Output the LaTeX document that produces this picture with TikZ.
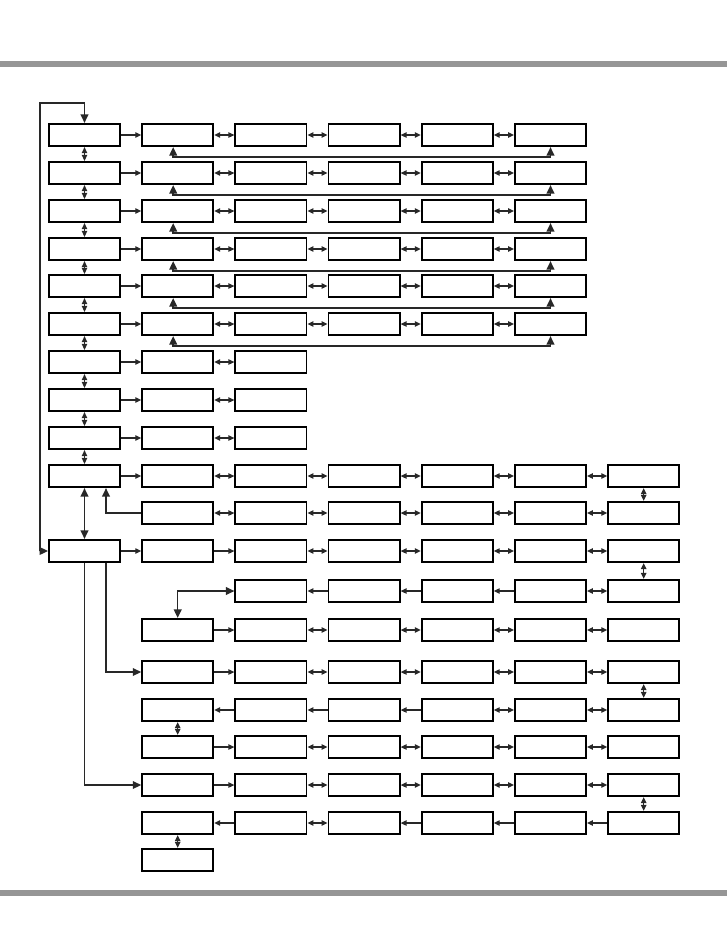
\documentclass[tikz,border=0pt]{standalone}
\usepackage{tikz}
\usetikzlibrary{arrows.meta,calc}
\definecolor{bargray}{RGB}{150,150,150}
\definecolor{linegray}{RGB}{40,40,40}
\tikzset{
  menu/.style={rectangle,draw=black,line width=1.3pt,fill=white,
               minimum width=17.8mm,minimum height=5.6mm,inner sep=0pt},
  one/.style={-{Triangle[length=4.2pt,width=3.8pt]},line width=0.9pt,linegray},
  dbl/.style={{Triangle[length=4.2pt,width=3.8pt]}-{Triangle[length=4.2pt,width=3.8pt]},
              line width=0.9pt,linegray},
  big/.style={-{Triangle[length=6pt,width=5.5pt]},line width=1pt,linegray},
  bigdbl/.style={{Triangle[length=6pt,width=5.5pt]}-{Triangle[length=6pt,width=5.5pt]},
                 line width=1pt,linegray},
}

\begin{document}
\begin{tikzpicture}[x=0.25mm,y=-0.25mm]
  \useasboundingbox (0,0) rectangle (727,948);
  \fill[bargray] (0,61) rectangle (727,67);
  \fill[bargray] (0,890) rectangle (727,896);

  % menu boxes: row/y/first column/last column
  \foreach \row/\y/\a/\b in {0/135/0/5, 1/173/0/5, 2/211/0/5, 3/249/0/5,
      4/286/0/5, 5/324/0/5, 6/362/0/2, 7/400/0/2, 8/438/0/2, 9/476/0/6,
      10/513/1/6, 11/551/0/6, 12/591/2/6, 13/630/1/6, 14/672/1/6,
      15/710/1/6, 16/747/1/6, 17/785/1/6, 18/823/1/6, 19/860/1/1}{
    \foreach \col in {\a,...,\b}
      \node[menu] (r\row c\col) at (84.5+93.2*\col,\y) {};
  }

  % double arrows along a row: row/first/last column
  \foreach \row/\a/\b in {0/1/5, 1/1/5, 2/1/5, 3/1/5, 4/1/5, 5/1/5,
      6/1/2, 7/1/2, 8/1/2, 9/1/6, 10/1/6, 11/2/6, 12/5/6, 13/2/6,
      14/2/6, 15/4/6, 16/2/6, 17/2/6, 18/2/3}{
    \pgfmathtruncatemacro{\last}{\b-1}
    \foreach \col in {\a,...,\last}{
      \pgfmathtruncatemacro{\nxt}{\col+1}
      \draw[dbl] (r\row c\col) -- (r\row c\nxt);
    }
  }

  % single arrows to the right
  \foreach \row in {0,...,9,11}
    \draw[one] (r\row c0) -- (r\row c1);
  \foreach \row in {11,13,14,16,17}
    \draw[one] (r\row c1) -- (r\row c2);

  % single arrows to the left: row/target column
  \foreach \row/\col in {12/2, 12/3, 12/4, 15/1, 15/2, 15/3,
      18/1, 18/3, 18/4, 18/5}{
    \pgfmathtruncatemacro{\nxt}{\col+1}
    \draw[one] (r\row c\nxt) -- (r\row c\col);
  }

  % small vertical links: column/upper row
  \foreach \col/\row in {0/0, 0/1, 0/2, 0/3, 0/4, 0/5, 0/6, 0/7, 0/8,
      6/9, 6/11, 6/14, 6/17, 1/15, 1/18}{
    \pgfmathtruncatemacro{\nxt}{\row+1}
    \draw[dbl] (r\row c\col) -- (r\nxt c\col);
  }

  % return lines under the first six rows
  \foreach \row in {0,...,5}
    \draw[bigdbl] ($(r\row c1.south)+(-4.5,0)$) -- ++(0,10) -| (r\row c5.south);

  \coordinate (loop) at (40,103);
  \draw[bigdbl] (r11c0.west) -| (loop) -| (r0c0.north);
  \draw[bigdbl] (r9c0) -- (r11c0);
  \draw[big] (r10c1.west) -| ($(r9c0.south)+(21.5,0)$);
  \draw[big] ($(r11c0.south)+(21.5,0)$) |- (r14c1.west);
  \draw[big] (r11c0.south) |- (r17c1.west);
  \draw[bigdbl] (r12c2.west) -| (r13c1.north);
\end{tikzpicture}
\end{document}
